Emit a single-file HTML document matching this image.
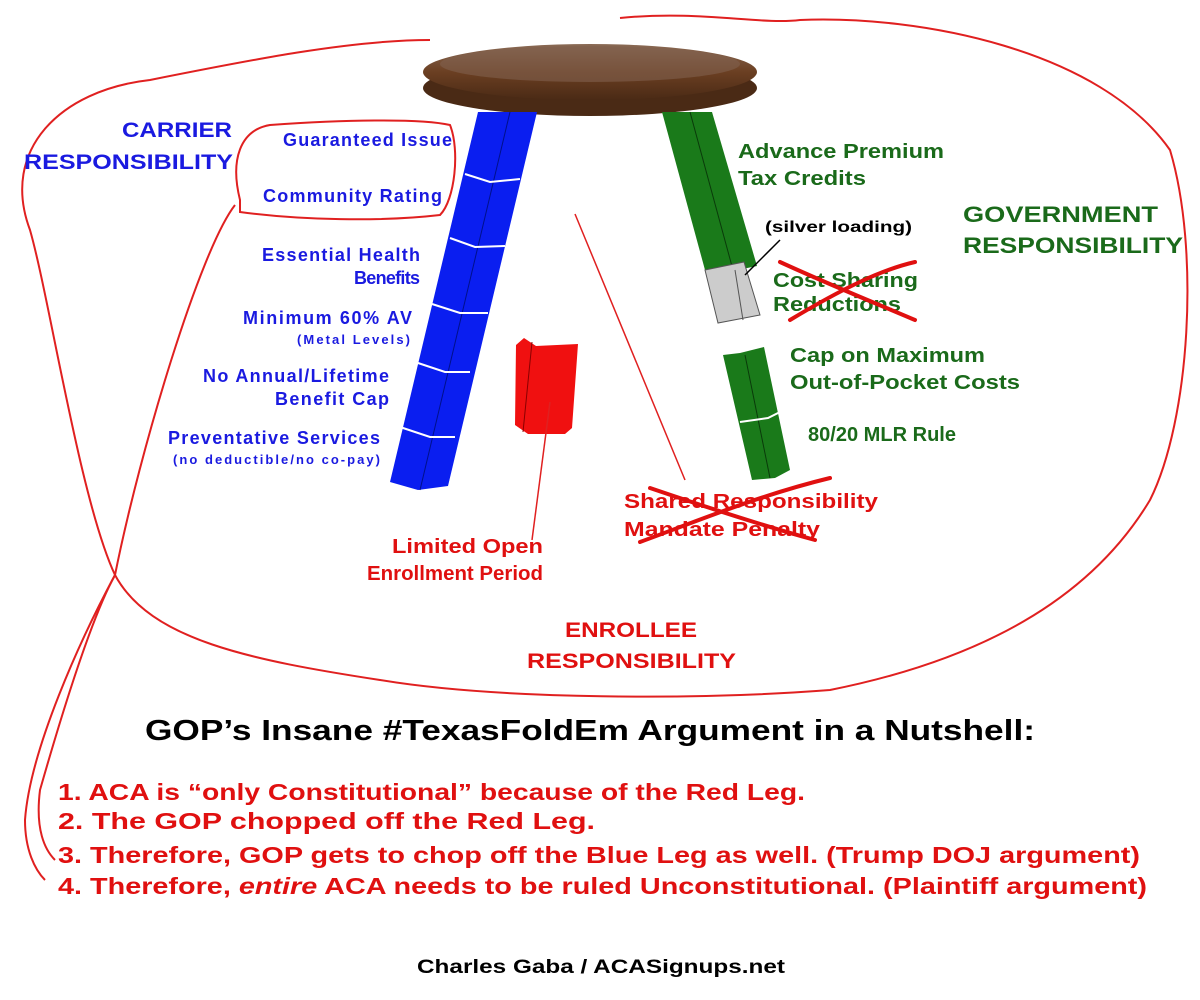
<!DOCTYPE html>
<html><head><meta charset="utf-8"><style>
html,body{margin:0;padding:0;background:#fff;width:1200px;height:1000px;overflow:hidden}
svg text{font-family:"Liberation Sans",sans-serif;font-weight:bold}
</style></head><body>
<svg width="1200" height="1000" viewBox="0 0 1200 1000" xmlns="http://www.w3.org/2000/svg">
<defs><linearGradient id="wood" x1="0" y1="0" x2="0" y2="1"><stop offset="0" stop-color="#8a6a55"/><stop offset="0.5" stop-color="#6b3f22"/><stop offset="1" stop-color="#4a2a15"/></linearGradient></defs>
<!-- big red outline -->
<path d="M620,18 C700,10 760,25 800,20 C920,15 1100,50 1170,150 C1200,250 1190,420 1150,500 C1090,600 980,660 830,690 C700,700 500,700 380,680 C250,660 150,640 115,575 C80,500 50,300 30,230 C0,150 60,90 150,80 C250,60 350,40 430,40" fill="none" stroke="#e02020" stroke-width="2"/>
<path d="M115,575 C90,620 60,720 40,790 C35,830 45,850 55,860" fill="none" stroke="#e02020" stroke-width="2"/>
<path d="M115,575 C80,640 30,750 25,820 C25,850 35,870 45,880" fill="none" stroke="#e02020" stroke-width="2"/>
<path d="M115,575 C140,450 200,250 235,205" fill="none" stroke="#e02020" stroke-width="2"/>
<path d="M240,200 C230,160 240,130 270,125 C340,120 420,118 450,125 C460,150 455,200 440,215 C380,222 300,220 240,212 Z" fill="none" stroke="#e02020" stroke-width="2"/>
<!-- seat -->
<ellipse cx="590" cy="88" rx="167" ry="28" fill="#4a2a15"/>
<ellipse cx="590" cy="72" rx="167" ry="28" fill="url(#wood)"/>
<ellipse cx="590" cy="64" rx="150" ry="18" fill="#80604e" opacity="0.6"/>
<!-- blue leg -->
<polygon points="478,112 537,112 448,486 418,490 390,482" fill="#0a1ef0"/>
<line x1="510" y1="112" x2="420" y2="490" stroke="#00108a" stroke-width="1"/>
<g stroke="#fff" stroke-width="2" fill="none">
<polyline points="465,174 490,182 520,179"/>
<polyline points="450,238 475,247 505,246"/>
<polyline points="432,304 460,313 488,313"/>
<polyline points="415,362 445,372 470,372"/>
<polyline points="400,427 430,437 455,437"/>
</g>
<!-- green leg -->
<polygon points="662,112 712,112 757,266 723,273 705,270" fill="#1a7a1a"/>
<line x1="690" y1="112" x2="733" y2="270" stroke="#0a3a0a" stroke-width="1"/>
<polygon points="705,270 744,262 760,315 718,323" fill="#cccccc" stroke="#555" stroke-width="1"/>
<line x1="735" y1="270" x2="743" y2="320" stroke="#555"/>
<line x1="745" y1="275" x2="780" y2="240" stroke="#000" stroke-width="1.5"/>
<polygon points="723,355 740,353 764,347 790,470 775,478 752,480" fill="#1a7a1a"/>
<line x1="745" y1="355" x2="770" y2="478" stroke="#0a3a0a"/>
<polyline points="740,422 768,418 788,408" stroke="#fff" stroke-width="2" fill="none"/>
<!-- red piece -->
<polygon points="524,338 536,346 578,344 572,428 565,434 528,434 515,425 516,345" fill="#f01010"/>
<line x1="532" y1="342" x2="523" y2="432" stroke="#800" stroke-width="1"/>
<line x1="550" y1="402" x2="532" y2="540" stroke="#e02020" stroke-width="1.5"/>
<line x1="575" y1="214" x2="685" y2="480" stroke="#e02020" stroke-width="1.5"/>
<!-- blue text -->
<g fill="#1a1ae0" font-size="18" lengthAdjust="spacingAndGlyphs">
<text x="283" y="146" textLength="169">Guaranteed Issue</text>
<text x="263" y="202" textLength="179">Community Rating</text>
<text x="262" y="261" textLength="158">Essential Health</text>
<text x="354" y="284" textLength="66">Benefits</text>
<text x="243" y="324" textLength="169">Minimum 60% AV</text>
<text x="297" y="344" font-size="13" textLength="113">(Metal Levels)</text>
<text x="203" y="382" textLength="186">No Annual/Lifetime</text>
<text x="275" y="405" textLength="114">Benefit Cap</text>
<text x="168" y="444" textLength="212">Preventative Services</text>
<text x="173" y="464" font-size="13" textLength="207">(no deductible/no co-pay)</text>
</g>
<g fill="#1a1ae0" font-size="21">
<text x="122" y="137" textLength="110" lengthAdjust="spacingAndGlyphs">CARRIER</text>
<text x="24" y="169" textLength="209" lengthAdjust="spacingAndGlyphs">RESPONSIBILITY</text>
</g>
<!-- green text -->
<g fill="#1a6a1a" font-size="20">
<text x="738" y="158" textLength="206" lengthAdjust="spacingAndGlyphs">Advance Premium</text>
<text x="738" y="185" textLength="128" lengthAdjust="spacingAndGlyphs">Tax Credits</text>
<text x="773" y="287" textLength="145" lengthAdjust="spacingAndGlyphs">Cost Sharing</text>
<text x="773" y="311" textLength="128" lengthAdjust="spacingAndGlyphs">Reductions</text>
<text x="790" y="362" textLength="195" lengthAdjust="spacingAndGlyphs">Cap on Maximum</text>
<text x="790" y="389" textLength="230" lengthAdjust="spacingAndGlyphs">Out-of-Pocket Costs</text>
<text x="808" y="441" textLength="148" lengthAdjust="spacingAndGlyphs">80/20 MLR Rule</text>
</g>
<text x="765" y="232" font-size="16" fill="#000" textLength="147" lengthAdjust="spacingAndGlyphs">(silver loading)</text>
<g fill="#1a6a1a" font-size="22">
<text x="963" y="222" textLength="195" lengthAdjust="spacingAndGlyphs">GOVERNMENT</text>
<text x="963" y="253" textLength="220" lengthAdjust="spacingAndGlyphs">RESPONSIBILITY</text>
</g>
<!-- red text -->
<g fill="#e01010" font-size="20">
<text x="624" y="508" textLength="254" lengthAdjust="spacingAndGlyphs">Shared Responsibility</text>
<text x="624" y="536" textLength="196" lengthAdjust="spacingAndGlyphs">Mandate Penalty</text>
<text x="392" y="553" textLength="151" lengthAdjust="spacingAndGlyphs">Limited Open</text>
<text x="367" y="580" textLength="176" lengthAdjust="spacingAndGlyphs">Enrollment Period</text>
</g>
<g fill="#e01010" font-size="21">
<text x="565" y="637" textLength="132" lengthAdjust="spacingAndGlyphs">ENROLLEE</text>
<text x="527" y="668" textLength="209" lengthAdjust="spacingAndGlyphs">RESPONSIBILITY</text>
</g>
<g stroke="#e01010" stroke-width="4" fill="none" stroke-linecap="round">
<path d="M780,262 C830,285 880,305 915,320"/>
<path d="M790,320 C840,290 880,270 915,262"/>
<path d="M650,488 C700,505 760,525 815,540"/>
<path d="M640,542 C700,520 760,495 830,478"/>
</g>
<!-- bottom -->
<text x="145" y="740" font-size="29" fill="#000" textLength="890" lengthAdjust="spacingAndGlyphs">GOP’s Insane #TexasFoldEm Argument in a Nutshell:</text>
<g fill="#e01010" font-size="23">
<text x="58" y="800" textLength="747" lengthAdjust="spacingAndGlyphs">1. ACA is “only Constitutional” because of the Red Leg.</text>
<text x="58" y="829" textLength="537" lengthAdjust="spacingAndGlyphs">2. The GOP chopped off the Red Leg.</text>
<text x="58" y="863" textLength="1082" lengthAdjust="spacingAndGlyphs">3. Therefore, GOP gets to chop off the Blue Leg as well. (Trump DOJ argument)</text>
<text x="58" y="894" textLength="1089" lengthAdjust="spacingAndGlyphs">4. Therefore, <tspan font-style="italic">entire</tspan> ACA needs to be ruled Unconstitutional. (Plaintiff argument)</text>
</g>
<text x="417" y="973" font-size="19" fill="#000" textLength="368" lengthAdjust="spacingAndGlyphs">Charles Gaba / ACASignups.net</text>
</svg>
</body></html>
